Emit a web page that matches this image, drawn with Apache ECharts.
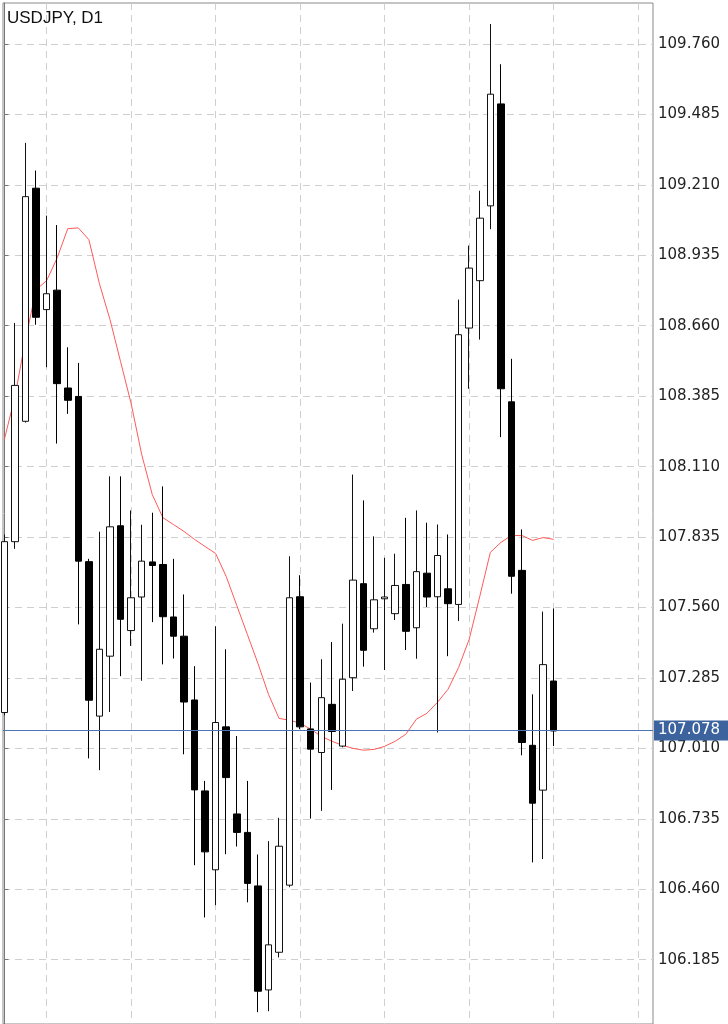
<!DOCTYPE html>
<html><head><meta charset="utf-8">
<script src="https://cdn.jsdelivr.net/npm/echarts@6/dist/echarts.min.js"></script>
<style>html,body{margin:0;padding:0;background:#fff}#c{width:728px;height:1024px}</style>
</head><body><div id="c"></div>
<script>
const symbolTitle = 'USDJPY, D1';
const opens = [107.150,107.817,108.287,109.197,108.723,108.799,108.417,108.384,107.739,107.136,107.370,107.879,107.470,107.601,107.738,107.728,107.523,107.448,107.199,106.844,106.536,107.094,106.754,106.682,106.473,106.067,106.214,106.476,107.602,107.086,106.994,107.182,107.019,107.286,107.653,107.477,107.594,107.536,107.650,107.481,107.694,107.602,107.633,107.572,108.651,108.836,109.128,109.526,108.363,107.705,107.022,106.847,107.273];
const highs = [107.845,108.671,109.374,109.266,109.090,109.053,108.576,108.515,107.750,107.856,108.072,108.072,107.939,107.883,107.930,108.033,107.750,107.611,107.331,106.883,107.487,107.397,107.058,106.883,106.596,106.648,106.739,107.760,107.686,107.267,107.358,107.425,107.497,108.079,107.978,107.838,107.754,107.770,107.910,107.939,107.891,107.884,107.845,108.762,108.973,109.187,109.838,109.681,108.531,107.865,107.221,107.544,107.556];
const lows = [107.139,107.789,108.282,108.664,108.498,108.200,108.316,107.494,106.971,106.925,107.152,107.292,107.410,107.274,107.503,107.338,107.361,106.987,106.554,106.350,106.398,106.597,106.627,106.409,105.980,105.984,106.194,106.468,107.085,106.736,106.766,106.848,107.014,107.234,107.329,107.462,107.316,107.511,107.394,107.360,107.562,107.072,107.370,107.507,108.414,108.606,109.037,108.225,107.614,106.983,106.565,106.578,107.019];
const closes = [107.817,108.427,109.164,108.693,108.785,108.434,108.369,107.741,107.198,107.397,107.875,107.514,107.598,107.741,107.724,107.524,107.448,107.191,106.848,106.606,107.111,106.896,106.682,106.483,106.062,106.243,106.628,107.598,107.094,107.007,107.208,107.076,107.280,107.667,107.393,107.590,107.601,107.646,107.467,107.700,107.601,107.763,107.575,108.625,108.885,109.080,109.564,108.414,107.682,107.033,106.796,107.337,107.078];
const maValues = [108.216,108.383,108.606,108.801,108.836,108.925,109.039,109.042,108.996,108.824,108.684,108.520,108.356,108.157,108.001,107.911,107.884,107.857,107.826,107.798,107.771,107.681,107.568,107.455,107.342,107.221,107.127,107.120,107.108,107.085,107.057,107.038,107.022,107.010,107.003,107.006,107.018,107.038,107.065,107.124,107.147,107.190,107.241,107.326,107.436,107.603,107.775,107.814,107.841,107.841,107.822,107.833,107.826];
const priceTicks = [109.760,109.485,109.210,108.935,108.660,108.385,108.110,107.835,107.560,107.285,107.010,106.735,106.460,106.185];
const timeGridBars = [4,12,20,28,36,44,52,60];
const lastPrice = 107.078;

const candleData = opens.map((o, i) => [i, o, closes[i], lows[i], highs[i]]);
const maData = maValues.map((v, i) => [i, v]);

const chart = echarts.init(document.getElementById('c'), null, {renderer: 'canvas'});
chart.setOption({
  animation: false,
  backgroundColor: '#fff',
  title: {
    text: symbolTitle, left: 2, top: 5,
    textStyle: {fontSize: 17, fontWeight: 'normal', color: '#111', fontFamily: 'Liberation Sans'}
  },
  grid: {left: 3, top: 3, right: 75, bottom: -1, show: true, borderColor: '#8a8a8a', borderWidth: 1, backgroundColor: 'transparent'},
  xAxis: {
    type: 'value', min: -0.13, max: 61.4,
    axisLine: {show: false},
    axisTick: {show: false, customValues: timeGridBars},
    axisLabel: {show: false, customValues: timeGridBars},
    splitLine: {show: true, lineStyle: {color: '#cfcfcf', type: [7, 5], width: 1}}
  },
  yAxis: {
    type: 'value', position: 'right', min: 105.934, max: 109.920, scale: true,
    axisLine: {show: true, lineStyle: {color: '#777', width: 1}},
    axisTick: {show: true, length: 4, customValues: priceTicks, lineStyle: {color: '#777'}},
    axisLabel: {
      show: true, customValues: priceTicks, margin: 5, color: '#222', fontSize: 15,
      fontFamily: 'DejaVu Sans', formatter: v => Number(v).toFixed(3)
    },
    splitLine: {show: true, lineStyle: {color: '#cfcfcf', type: [7, 5], width: 1}}
  },
  series: [
    {
      type: 'line', data: maData, showSymbol: false, symbol: 'none',
      lineStyle: {color: '#ff5a5a', width: 1}, z: 2, silent: true
    },
    {
      type: 'candlestick', data: candleData, barWidth: 7, z: 3,
      itemStyle: {color: '#ffffff', color0: '#000000', borderColor: '#111', borderColor0: '#000', borderWidth: 1},
      markLine: {
        silent: true, symbol: 'none', animation: false,
        lineStyle: {color: '#4a74b4', width: 1, type: 'solid'},
        label: {
          show: true, position: 'end', distance: 1, formatter: () => lastPrice.toFixed(3),
          color: '#fff', backgroundColor: '#3d639e', fontSize: 15, fontFamily: 'DejaVu Sans',
          padding: [2, 9, 2, 4], lineHeight: 16
        },
        data: [{yAxis: lastPrice}]
      }
    }
  ]
});
</script></body></html>
